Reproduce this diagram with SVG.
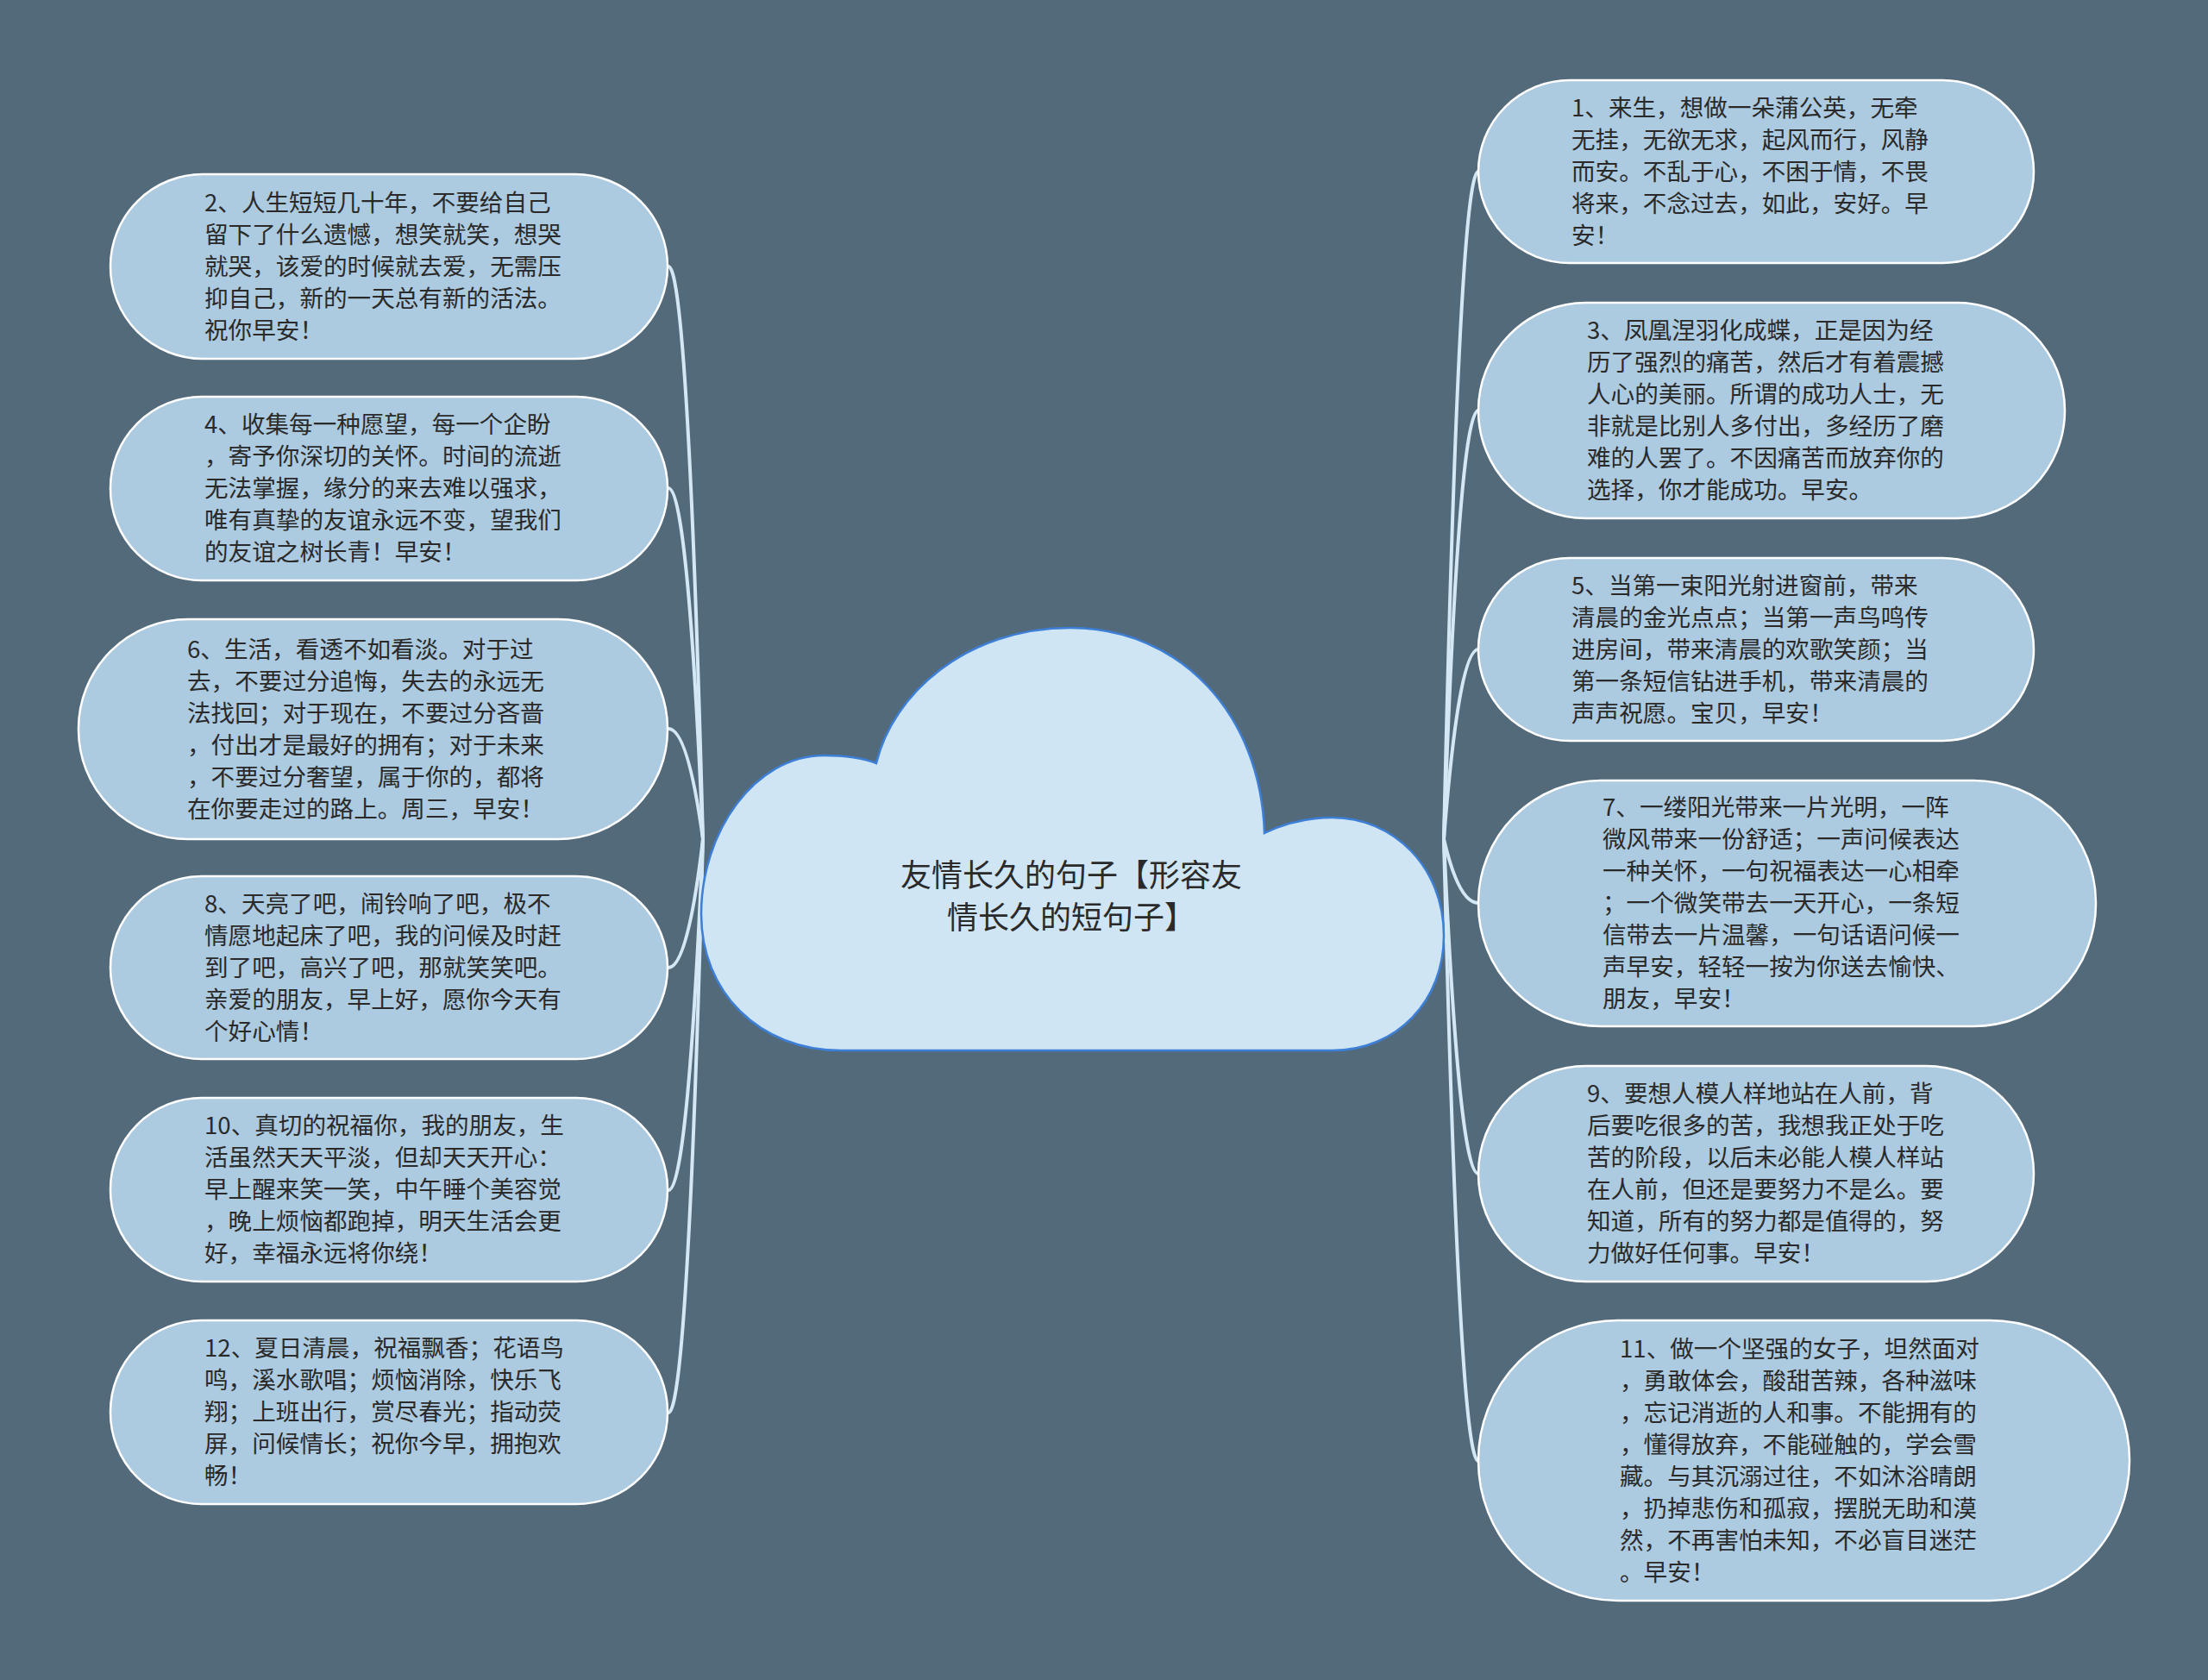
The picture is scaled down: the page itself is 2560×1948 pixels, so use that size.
<svg xmlns="http://www.w3.org/2000/svg" width="2560" height="1948" viewBox="0 0 2560 1948">
<style>
.bg{fill:#536a7b}
.node{fill:#accae0;stroke:#ffffff;stroke-width:2.5}
.cloud{fill:#cfe5f3;stroke:#3d7fd6;stroke-width:2.5}
.t{font-family:"Noto Sans CJK SC","Noto Sans",sans-serif;font-size:27.6px;fill:#2a2a2a}
.title{font-family:"Noto Sans CJK SC","Noto Sans",sans-serif;font-size:36px;fill:#2a2a2a;text-anchor:middle}
.link{fill:none;stroke:#d3e8f4;stroke-width:4;stroke-linecap:round}
</style>
<rect class="bg" x="0" y="0" width="2560" height="1948"/>
<g id="connectors">
<path class="link" d="M815 973 C808 707 795 309 775 309"/>
<path class="link" d="M815 973 C808 811 795 566 775 566"/>
<path class="link" d="M815 973 C808 922 795 845 775 845"/>
<path class="link" d="M815 973 C808 1033 795 1122 775 1122"/>
<path class="link" d="M815 973 C808 1136 795 1380 775 1380"/>
<path class="link" d="M815 973 C808 1239 795 1638 775 1638"/>
<path class="link" d="M1674 973 C1681 663 1694 199 1714 199"/>
<path class="link" d="M1674 973 C1681 774 1694 476 1714 476"/>
<path class="link" d="M1674 973 C1681 885 1694 753 1714 753"/>
<path class="link" d="M1674 973 C1681 1003 1694 1047 1714 1047"/>
<path class="link" d="M1674 973 C1681 1128 1694 1361 1714 1361"/>
<path class="link" d="M1674 973 C1681 1261 1694 1694 1714 1694"/>
</g>
<g id="root">
<path class="cloud" d="M975 1218 L1545 1218 C1620 1218 1674 1160 1674 1085 C1674 1005 1615 948 1545 948 C1515 948 1488 955 1466 966 C1462 830 1370 728 1241 728 C1120 728 1035 805 1016 885 C998 878 975 876 955 876 C875 876 813 965 813 1060 C813 1150 880 1218 975 1218 Z"/>
<text class="title" x="1242" y="1028">友情长久的句子【形容友</text>
<text class="title" x="1242" y="1077">情长久的短句子】</text>
</g>
<g id="n2">
<rect class="node" x="128" y="202" width="646" height="214" rx="107"/>
<text class="t"><tspan x="237" y="245">2、人生短短几十年，不要给自己</tspan><tspan x="237" y="282">留下了什么遗憾，想笑就笑，想哭</tspan><tspan x="237" y="319">就哭，该爱的时候就去爱，无需压</tspan><tspan x="237" y="356">抑自己，新的一天总有新的活法。</tspan><tspan x="237" y="393">祝你早安！</tspan></text>
</g>
<g id="n4">
<rect class="node" x="128" y="460" width="646" height="213" rx="106"/>
<text class="t"><tspan x="237" y="502">4、收集每一种愿望，每一个企盼</tspan><tspan x="237" y="539">，寄予你深切的关怀。时间的流逝</tspan><tspan x="237" y="576">无法掌握，缘分的来去难以强求，</tspan><tspan x="237" y="613">唯有真挚的友谊永远不变，望我们</tspan><tspan x="237" y="650">的友谊之树长青！早安！</tspan></text>
</g>
<g id="n6">
<rect class="node" x="91" y="718" width="683" height="255" rx="127"/>
<text class="t"><tspan x="217" y="763">6、生活，看透不如看淡。对于过</tspan><tspan x="217" y="800">去，不要过分追悔，失去的永远无</tspan><tspan x="217" y="837">法找回；对于现在，不要过分吝啬</tspan><tspan x="217" y="874">，付出才是最好的拥有；对于未来</tspan><tspan x="217" y="911">，不要过分奢望，属于你的，都将</tspan><tspan x="217" y="948">在你要走过的路上。周三，早安！</tspan></text>
</g>
<g id="n8">
<rect class="node" x="128" y="1016" width="646" height="212" rx="106"/>
<text class="t"><tspan x="237" y="1058">8、天亮了吧，闹铃响了吧，极不</tspan><tspan x="237" y="1095">情愿地起床了吧，我的问候及时赶</tspan><tspan x="237" y="1132">到了吧，高兴了吧，那就笑笑吧。</tspan><tspan x="237" y="1169">亲爱的朋友，早上好，愿你今天有</tspan><tspan x="237" y="1206">个好心情！</tspan></text>
</g>
<g id="n10">
<rect class="node" x="128" y="1273" width="646" height="213" rx="106"/>
<text class="t"><tspan x="237" y="1315">10、真切的祝福你，我的朋友，生</tspan><tspan x="237" y="1352">活虽然天天平淡，但却天天开心：</tspan><tspan x="237" y="1389">早上醒来笑一笑，中午睡个美容觉</tspan><tspan x="237" y="1426">，晚上烦恼都跑掉，明天生活会更</tspan><tspan x="237" y="1463">好，幸福永远将你绕！</tspan></text>
</g>
<g id="n12">
<rect class="node" x="128" y="1531" width="646" height="213" rx="106"/>
<text class="t"><tspan x="237" y="1573">12、夏日清晨，祝福飘香；花语鸟</tspan><tspan x="237" y="1610">鸣，溪水歌唱；烦恼消除，快乐飞</tspan><tspan x="237" y="1647">翔；上班出行，赏尽春光；指动荧</tspan><tspan x="237" y="1684">屏，问候情长；祝你今早，拥抱欢</tspan><tspan x="237" y="1721">畅！</tspan></text>
</g>
<g id="n1">
<rect class="node" x="1714" y="93" width="644" height="212" rx="106"/>
<text class="t"><tspan x="1822" y="135">1、来生，想做一朵蒲公英，无牵</tspan><tspan x="1822" y="172">无挂，无欲无求，起风而行，风静</tspan><tspan x="1822" y="209">而安。不乱于心，不困于情，不畏</tspan><tspan x="1822" y="246">将来，不念过去，如此，安好。早</tspan><tspan x="1822" y="283">安！</tspan></text>
</g>
<g id="n3">
<rect class="node" x="1714" y="351" width="680" height="250" rx="125"/>
<text class="t"><tspan x="1840" y="393">3、凤凰涅羽化成蝶，正是因为经</tspan><tspan x="1840" y="430">历了强烈的痛苦，然后才有着震撼</tspan><tspan x="1840" y="467">人心的美丽。所谓的成功人士，无</tspan><tspan x="1840" y="504">非就是比别人多付出，多经历了磨</tspan><tspan x="1840" y="541">难的人罢了。不因痛苦而放弃你的</tspan><tspan x="1840" y="578">选择，你才能成功。早安。</tspan></text>
</g>
<g id="n5">
<rect class="node" x="1714" y="647" width="644" height="212" rx="106"/>
<text class="t"><tspan x="1822" y="689">5、当第一束阳光射进窗前，带来</tspan><tspan x="1822" y="726">清晨的金光点点；当第一声鸟鸣传</tspan><tspan x="1822" y="763">进房间，带来清晨的欢歌笑颜；当</tspan><tspan x="1822" y="800">第一条短信钻进手机，带来清晨的</tspan><tspan x="1822" y="837">声声祝愿。宝贝，早安！</tspan></text>
</g>
<g id="n7">
<rect class="node" x="1714" y="905" width="716" height="285" rx="142"/>
<text class="t"><tspan x="1858" y="946">7、一缕阳光带来一片光明，一阵</tspan><tspan x="1858" y="983">微风带来一份舒适；一声问候表达</tspan><tspan x="1858" y="1020">一种关怀，一句祝福表达一心相牵</tspan><tspan x="1858" y="1057">；一个微笑带去一天开心，一条短</tspan><tspan x="1858" y="1094">信带去一片温馨，一句话语问候一</tspan><tspan x="1858" y="1131">声早安，轻轻一按为你送去愉快、</tspan><tspan x="1858" y="1168">朋友，早安！</tspan></text>
</g>
<g id="n9">
<rect class="node" x="1714" y="1236" width="644" height="250" rx="125"/>
<text class="t"><tspan x="1840" y="1278">9、要想人模人样地站在人前，背</tspan><tspan x="1840" y="1315">后要吃很多的苦，我想我正处于吃</tspan><tspan x="1840" y="1352">苦的阶段，以后未必能人模人样站</tspan><tspan x="1840" y="1389">在人前，但还是要努力不是么。要</tspan><tspan x="1840" y="1426">知道，所有的努力都是值得的，努</tspan><tspan x="1840" y="1463">力做好任何事。早安！</tspan></text>
</g>
<g id="n11">
<rect class="node" x="1714" y="1531" width="755" height="325" rx="162"/>
<text class="t"><tspan x="1878" y="1574">11、做一个坚强的女子，坦然面对</tspan><tspan x="1878" y="1611">，勇敢体会，酸甜苦辣，各种滋味</tspan><tspan x="1878" y="1648">，忘记消逝的人和事。不能拥有的</tspan><tspan x="1878" y="1685">，懂得放弃，不能碰触的，学会雪</tspan><tspan x="1878" y="1722">藏。与其沉溺过往，不如沐浴晴朗</tspan><tspan x="1878" y="1759">，扔掉悲伤和孤寂，摆脱无助和漠</tspan><tspan x="1878" y="1796">然，不再害怕未知，不必盲目迷茫</tspan><tspan x="1878" y="1833">。早安！</tspan></text>
</g>
</svg>
